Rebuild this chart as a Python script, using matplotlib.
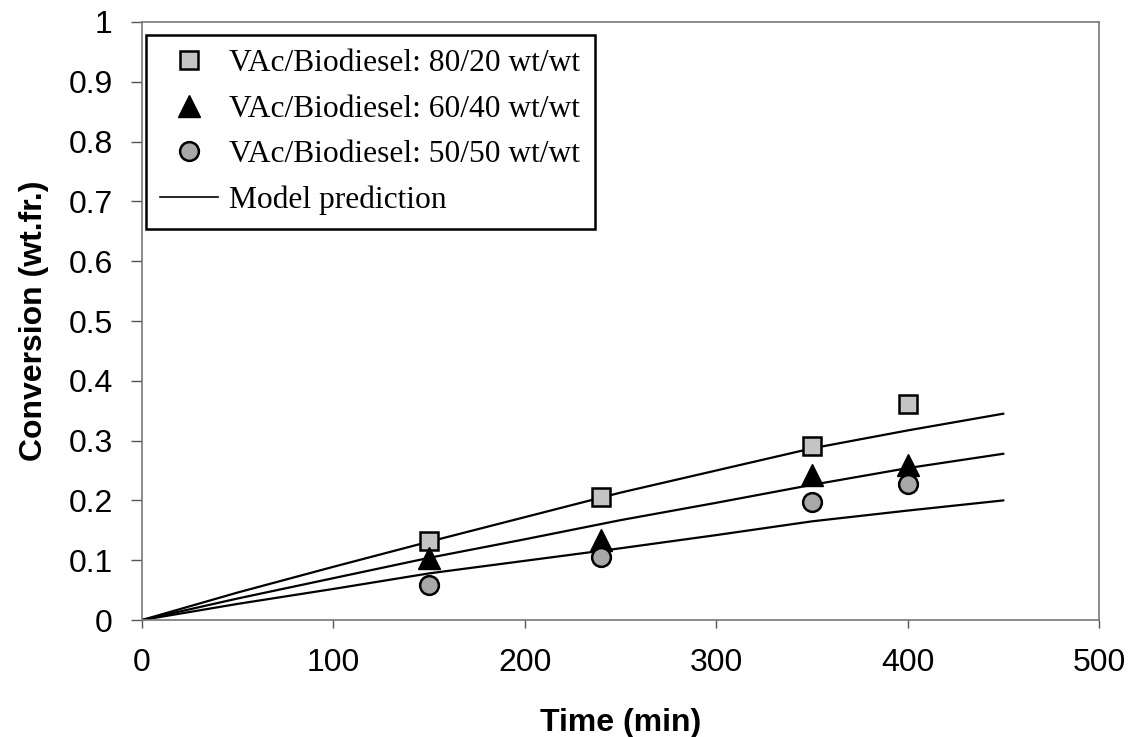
import numpy as np
import matplotlib.pyplot as plt
from matplotlib.lines import Line2D

# Experimental data
t_exp = [150, 240, 350, 400]
conv_80_20 = [0.132, 0.206, 0.291, 0.362]
conv_60_40 = [0.103, 0.133, 0.243, 0.260]
conv_50_50 = [0.058, 0.105, 0.197, 0.228]

# Model prediction curves
t_model = [0, 50, 100, 150, 200, 250, 300, 350, 400, 450]
model_80_20 = [0, 0.046, 0.089, 0.131, 0.172, 0.213, 0.250, 0.287, 0.317, 0.345]
model_60_40 = [0, 0.036, 0.070, 0.104, 0.135, 0.167, 0.196, 0.226, 0.254, 0.278]
model_50_50 = [0, 0.027, 0.052, 0.078, 0.099, 0.120, 0.142, 0.165, 0.183, 0.200]

sq_style = dict(ls='none', marker='s', ms=13.5, mfc='#c4c4c4', mec='black', mew=1.8)
tri_style = dict(ls='none', marker='^', ms=16, mfc='black', mec='black')
circ_style = dict(ls='none', marker='o', ms=13.5, mfc='#a8a8a8', mec='black', mew=1.8)

fig = plt.figure(figsize=(11.32, 7.37), dpi=100)
ax = fig.add_axes([0.1254, 0.1587, 0.8454, 0.8115])

for m in [model_80_20, model_60_40, model_50_50]:
    ax.plot(t_model, m, color='black', lw=1.6, zorder=2)

ax.plot(t_exp, conv_80_20, zorder=3, **sq_style)
ax.plot(t_exp, conv_60_40, zorder=3, **tri_style)
ax.plot(t_exp, conv_50_50, zorder=3, **circ_style)

ax.set_xlim(0, 500)
ax.set_ylim(0, 1)
ax.set_xticks(np.arange(0, 501, 100))
ax.set_yticks(np.arange(0, 1.01, 0.1))
ax.set_yticklabels(['0'] + ['%.1f' % v for v in np.arange(0.1, 0.95, 0.1)] + ['1'])

for s in ax.spines.values():
    s.set_color('#777777')
    s.set_linestyle((0, (1, 1)))
    s.set_linewidth(1.2)

ax.tick_params(axis='x', direction='out', length=6, width=1, color='#555555',
               labelsize=23, pad=14)
ax.tick_params(axis='y', direction='out', length=8, width=1, color='#555555',
               labelsize=23, pad=13)
for lab in ax.get_xticklabels() + ax.get_yticklabels():
    lab.set_fontfamily('Liberation Sans')

ax.set_xlabel('Time (min)', fontsize=23, fontweight='bold', family='Liberation Sans', labelpad=22)
ax.set_ylabel('Conversion (wt.fr.)', fontsize=23, fontweight='bold', family='Liberation Sans', labelpad=14)

handles = [
    Line2D([], [], **sq_style),
    Line2D([], [], **tri_style),
    Line2D([], [], **circ_style),
    Line2D([], [], color='black', lw=1.2),
]
labels = ['VAc/Biodiesel: 80/20 wt/wt', 'VAc/Biodiesel: 60/40 wt/wt',
          'VAc/Biodiesel: 50/50 wt/wt', 'Model prediction']
leg = ax.legend(handles, labels, loc='upper left', bbox_to_anchor=(0.004, 0.978),
                borderaxespad=0,
                prop={'family': 'Liberation Serif', 'size': 22.7}, frameon=True,
                fancybox=False, edgecolor='black', framealpha=1,
                handlelength=1.85, handletextpad=0.35, labelspacing=0.52, borderpad=0.45)
leg.get_frame().set_linewidth(1.8)

fig.savefig('out.png', dpi=100)
